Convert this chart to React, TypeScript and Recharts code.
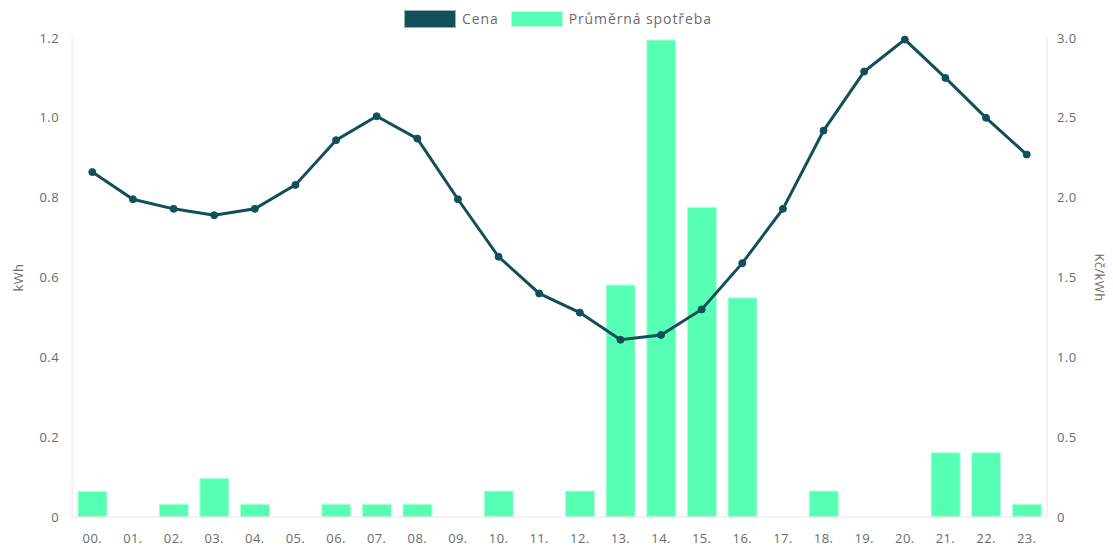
import React from 'react';
import { ComposedChart, Bar, Line, XAxis, YAxis } from 'recharts';

// hours of the day
const hours = ['00.', '01.', '02.', '03.', '04.', '05.', '06.', '07.', '08.', '09.', '10.', '11.',
  '12.', '13.', '14.', '15.', '16.', '17.', '18.', '19.', '20.', '21.', '22.', '23.'];

// average consumption, kWh
const consumption = [0.064, 0, 0.032, 0.097, 0.032, 0, 0.032, 0.032, 0.032, 0, 0.065, 0,
  0.065, 0.581, 1.195, 0.776, 0.549, 0, 0.065, 0, 0, 0.161, 0.161, 0.032];

// price, Kč/kWh
const price = [2.16, 1.99, 1.93, 1.89, 1.93, 2.08, 2.36, 2.51, 2.37, 1.99, 1.63, 1.4,
  1.28, 1.11, 1.14, 1.3, 1.59, 1.93, 2.42, 2.79, 2.99, 2.75, 2.5, 2.27];

const kwhTicks = [0, 0.2, 0.4, 0.6, 0.8, 1.0, 1.2];
const priceTicks = [0, 0.5, 1.0, 1.5, 2.0, 2.5, 3.0];

const data = hours.map((hour, i) => ({ hour, spotreba: consumption[i], cena: price[i] }));

const DARK = '#114f5b';
const GREEN = '#57ffb5';
const TEXT = '#6b6b6b';
const AXIS = '#e6e6e6';
const FONT = '"Open Sans", sans-serif';

const fmt = (v: number) => (v === 0 ? '0' : v.toFixed(1));

const LegendBox = () => (
  <div style={{
    position: 'absolute', top: 9, left: 404, display: 'flex', alignItems: 'center',
    fontFamily: FONT, fontSize: 14, letterSpacing: 0.9, color: TEXT,
  }}>
    <span style={{ width: 50, height: 16, background: DARK, border: '1px solid #9aaeb2', marginRight: 6 }} />
    <span style={{ marginRight: 12 }}>Cena</span>
    <span style={{ width: 50, height: 14, background: GREEN, border: '1px solid #b9ffdf', marginRight: 6 }} />
    <span>Průměrná spotřeba</span>
  </div>
);

export default function App() {
  const tick = { fontSize: 13, fill: TEXT, fontFamily: FONT, letterSpacing: 0.4 };
  return (
    <div style={{ position: 'absolute', left: 0, top: 0, width: 1113, height: 547, background: '#fff' }}>
      <ComposedChart width={1113} height={547} data={data} margin={{ top: 38, right: 0, bottom: 0, left: 0 }}>
        <XAxis
          dataKey="hour"
          height={30}
          tick={tick}
          tickLine={false}
          tickSize={0}
          tickMargin={17}
          axisLine={{ stroke: AXIS }}
          interval={0}
        />
        <YAxis
          yAxisId="kwh"
          orientation="left"
          width={72}
          domain={[0, 1.2]}
          ticks={kwhTicks}
          tickFormatter={fmt}
          tick={tick}
          tickLine={false}
          tickSize={0}
          tickMargin={13}
          axisLine={{ stroke: AXIS }}
          label={{ value: 'kWh', angle: -90, position: 'insideLeft', offset: 18,
            style: { textAnchor: 'middle', fill: TEXT, fontSize: 13, fontFamily: FONT, letterSpacing: 0.4 } }}
        />
        <YAxis
          yAxisId="price"
          orientation="right"
          width={66}
          domain={[0, 3]}
          ticks={priceTicks}
          tickFormatter={fmt}
          tick={{ ...tick, textAnchor: 'start' }}
          tickLine={false}
          tickSize={0}
          tickMargin={10}
          axisLine={{ stroke: AXIS }}
          label={{ value: 'Kč/kWh', angle: 90, position: 'insideRight', offset: 13,
            style: { textAnchor: 'middle', fill: TEXT, fontSize: 13, fontFamily: FONT, letterSpacing: 0.4 } }}
        />
        <Bar
          yAxisId="kwh"
          dataKey="spotreba"
          fill={GREEN}
          stroke="#b4ffdc"
          strokeWidth={1}
          barSize={29}
          isAnimationActive={false}
        />
        <Line
          yAxisId="price"
          dataKey="cena"
          type="linear"
          stroke={DARK}
          strokeWidth={3}
          dot={{ r: 3.5, fill: DARK, stroke: DARK, strokeWidth: 1 }}
          isAnimationActive={false}
        />
      </ComposedChart>
      <LegendBox />
    </div>
  );
}
